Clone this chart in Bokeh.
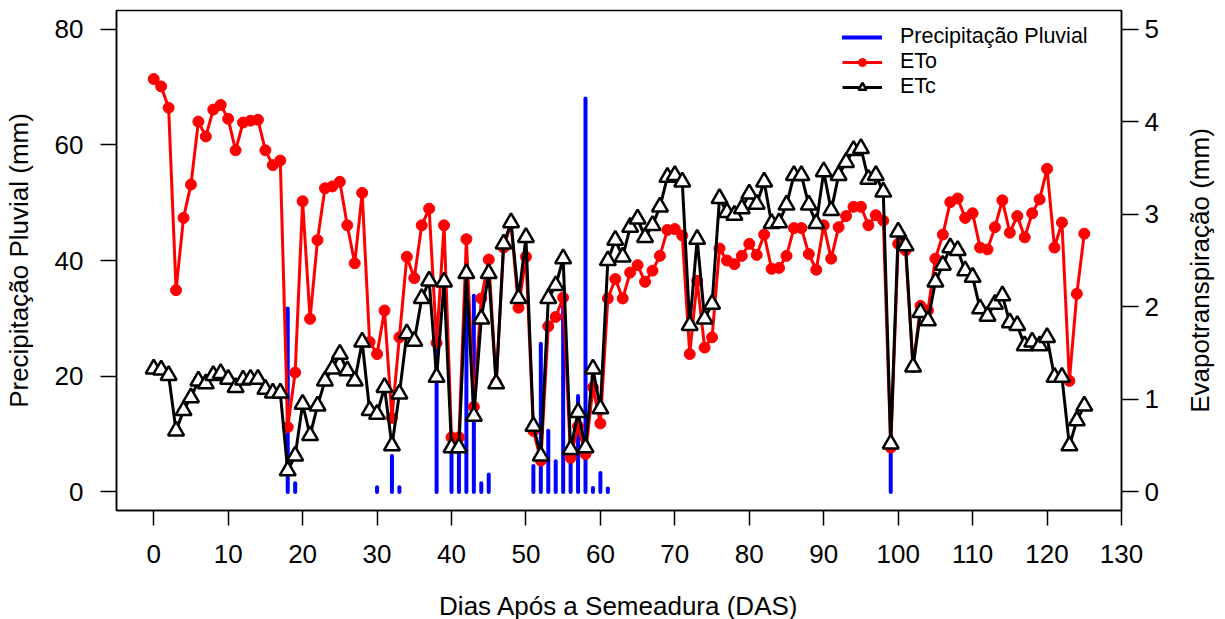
import math
from bokeh.plotting import figure
from bokeh.layouts import row
from bokeh.models import (Range1d, LinearAxis, FixedTicker, Legend, LegendItem,
                          ColumnDataSource, Label)
from bokeh.embed import file_html
from bokeh.resources import INLINE

# ---------------- data ----------------
days = list(range(126))

precip = [0.0] * 126
rain_days = [18, 19, 30, 32, 33, 38, 40, 41, 42, 43, 44, 45, 51, 52, 53, 54, 55,
             56, 57, 58, 59, 60, 61, 99]
rain_vals = [31.7, 1.5, 0.8, 6.2, 0.8, 24.5, 9.0, 9.0, 38.8, 33.9, 1.5, 3.0, 4.5,
             25.6, 10.6, 5.3, 34.0, 7.5, 16.6, 68.0, 0.7, 3.3, 0.6, 8.0]
for d, v in zip(rain_days, rain_vals):
    precip[d] = v

eto = [4.46, 4.38, 4.15, 2.18, 2.96, 3.32, 4.00, 3.84, 4.13, 4.18,
       4.03, 3.69, 3.99, 4.01, 4.02, 3.69, 3.53, 3.58, 0.70, 1.29,
       3.14, 1.87, 2.72, 3.28, 3.30, 3.35, 2.88, 2.47, 3.23, 1.62,
       1.49, 1.96, 0.80, 1.67, 2.54, 2.31, 2.88, 3.06, 1.61, 2.88,
       0.59, 0.59, 2.73, 0.92, 2.09, 2.51, 1.18, 2.64, 2.90, 1.99,
       2.54, 0.66, 0.34, 1.79, 1.89, 2.10, 0.37, 0.71, 0.41, 1.13,
       0.74, 2.09, 2.30, 2.09, 2.37, 2.45, 2.27, 2.39, 2.55, 2.83,
       2.84, 2.77, 1.49, 2.28, 1.56, 1.67, 2.63, 2.50, 2.46, 2.55,
       2.68, 2.56, 2.78, 2.41, 2.42, 2.55, 2.85, 2.85, 2.57, 2.40,
       2.88, 2.52, 2.86, 2.98, 3.08, 3.08, 2.88, 2.99, 2.93, 0.48,
       2.68, 2.61, 1.35, 2.01, 1.96, 2.52, 2.78, 3.13, 3.17, 2.96,
       3.01, 2.64, 2.62, 2.86, 3.15, 2.80, 2.98, 2.75, 3.01, 3.16,
       3.49, 2.64, 2.91, 1.20, 2.14, 2.79]

etc = [1.33, 1.32, 1.26, 0.66, 0.88, 1.02, 1.20, 1.17, 1.26, 1.28,
       1.22, 1.13, 1.21, 1.22, 1.22, 1.11, 1.07, 1.07, 0.23, 0.39,
       0.95, 0.61, 0.93, 1.20, 1.33, 1.49, 1.31, 1.20, 1.62, 0.88,
       0.84, 1.13, 0.50, 1.06, 1.71, 1.63, 2.09, 2.28, 1.24, 2.27,
       0.48, 0.48, 2.36, 0.82, 1.87, 2.36, 1.17, 2.68, 2.91, 2.09,
       2.75, 0.71, 0.39, 2.09, 2.23, 2.52, 0.46, 0.86, 0.48, 1.33,
       0.90, 2.50, 2.72, 2.54, 2.86, 2.95, 2.75, 2.88, 3.08, 3.40,
       3.42, 3.35, 1.80, 2.73, 1.87, 2.03, 3.17, 3.02, 2.99, 3.06,
       3.22, 3.11, 3.35, 2.90, 2.91, 3.10, 3.42, 3.42, 3.10, 2.90,
       3.46, 3.04, 3.42, 3.56, 3.69, 3.71, 3.38, 3.42, 3.24, 0.52,
       2.81, 2.66, 1.35, 1.94, 1.85, 2.27, 2.45, 2.64, 2.61, 2.39,
       2.32, 1.98, 1.90, 2.03, 2.12, 1.83, 1.80, 1.58, 1.62, 1.58,
       1.67, 1.24, 1.24, 0.50, 0.77, 0.93]

x_ticks = list(range(0, 131, 10))
left_ticks = [0, 20, 40, 60, 80]
right_ticks = [0, 1, 2, 3, 4, 5]

x_title = "Dias Após a Semeadura (DAS)"
left_title = "Precipitação Pluvial (mm)"
right_title = "Evapotranspiração (mm)"
legend_labels = ["Precipitação Pluvial", "ETo", "ETc"]

# ---------------- figure ----------------
FONT = "Liberation Sans"
TICK_FS = "26px"
TITLE_FS = "26px"
TOP, FRAME_H, BOTTOM = 10, 500, 107
TOTAL_H = TOP + FRAME_H + BOTTOM

p = figure(frame_width=1005, frame_height=FRAME_H,
           x_range=Range1d(-5, 130), y_range=Range1d(-3.2, 83.2),
           min_border_left=112, min_border_right=50,
           min_border_top=TOP, min_border_bottom=BOTTOM,
           output_backend="svg", toolbar_location=None)
p.extra_y_ranges = {"et": Range1d(-0.2, 5.2)}
p.xgrid.visible = False
p.ygrid.visible = False
p.outline_line_color = "black"
p.outline_line_width = 1.5
p.background_fill_color = "white"
p.border_fill_color = "white"

def style_axis(ax, tick_out, standoff):
    ax.major_tick_in = 0
    ax.major_tick_out = tick_out
    ax.minor_tick_line_color = None
    ax.major_tick_line_color = "black"
    ax.major_tick_line_width = 1.5
    ax.axis_line_color = "black"
    ax.axis_line_width = 1.5
    ax.major_label_text_font = FONT
    ax.major_label_text_font_size = TICK_FS
    ax.major_label_text_color = "black"
    ax.major_label_standoff = standoff
    ax.axis_label_text_font = FONT
    ax.axis_label_text_font_size = TITLE_FS
    ax.axis_label_text_font_style = "normal"
    ax.axis_label_text_color = "black"

xa = p.xaxis[0]
xa.ticker = FixedTicker(ticks=x_ticks)
xa.axis_label = x_title
style_axis(xa, 15, 19)
xa.axis_label_standoff = 25

ya = p.yaxis[0]
ya.ticker = FixedTicker(ticks=left_ticks)
ya.axis_label = left_title
style_axis(ya, 16, 17)
ya.axis_label_standoff = 18

yr = LinearAxis(y_range_name="et", ticker=FixedTicker(ticks=right_ticks))
style_axis(yr, 17, 6)
p.add_layout(yr, "right")

# ---------------- glyphs ----------------
rain_src = ColumnDataSource(dict(
    x=[d for d, v in zip(days, precip) if v > 0],
    y0=[0 for v in precip if v > 0],
    y1=[v for v in precip if v > 0]))
r_rain = p.segment(x0="x", y0="y0", x1="x", y1="y1", source=rain_src,
                   line_color="#0000FF", line_width=4, line_cap="round")

et_src = ColumnDataSource(dict(x=days, eto=eto, etc=etc))
r_eto_l = p.line("x", "eto", source=et_src, y_range_name="et",
                 line_color="#FF0000", line_width=3)
r_eto_m = p.scatter("x", "eto", source=et_src, y_range_name="et",
                    marker="circle", size=11, fill_color="#FF0000",
                    line_color="#FF0000", line_width=1)
r_etc_l = p.line("x", "etc", source=et_src, y_range_name="et",
                 line_color="black", line_width=3)
r_etc_m = p.scatter("x", "etc", source=et_src, y_range_name="et",
                    marker="triangle", size=16, fill_color="white",
                    line_color="black", line_width=2.5)

legend = Legend(items=[
    LegendItem(label=legend_labels[0], renderers=[r_rain]),
    LegendItem(label=legend_labels[1], renderers=[r_eto_l, r_eto_m]),
    LegendItem(label=legend_labels[2], renderers=[r_etc_l, r_etc_m]),
], location=(726, 411))
legend.label_text_font = FONT
legend.label_text_font_size = "21.5px"
legend.label_text_color = "black"
legend.glyph_width = 40
legend.glyph_height = 20
legend.label_height = 20
legend.label_standoff = 18
legend.spacing = 0
legend.padding = 0
legend.margin = 0
legend.border_line_color = None
legend.background_fill_alpha = 0
p.add_layout(legend, "center")

# ---------------- right-hand title (reads bottom-to-top, like R's mtext) ----------------
p2 = figure(frame_width=56, frame_height=TOTAL_H,
            x_range=Range1d(0, 1), y_range=Range1d(TOTAL_H, 0),
            min_border=0, output_backend="svg", toolbar_location=None)
p2.axis.visible = False
p2.xgrid.visible = False
p2.ygrid.visible = False
p2.outline_line_color = None
p2.background_fill_color = "white"
p2.border_fill_color = "white"
p2.add_layout(Label(x=0.5, y=TOP + FRAME_H / 2, text=right_title,
                    angle=math.pi / 2, text_align="center", text_baseline="middle",
                    text_font=FONT, text_font_size=TITLE_FS, text_color="black"))

layout = row(p, p2, spacing=0)
open("out.html", "w").write(file_html(layout, INLINE))
